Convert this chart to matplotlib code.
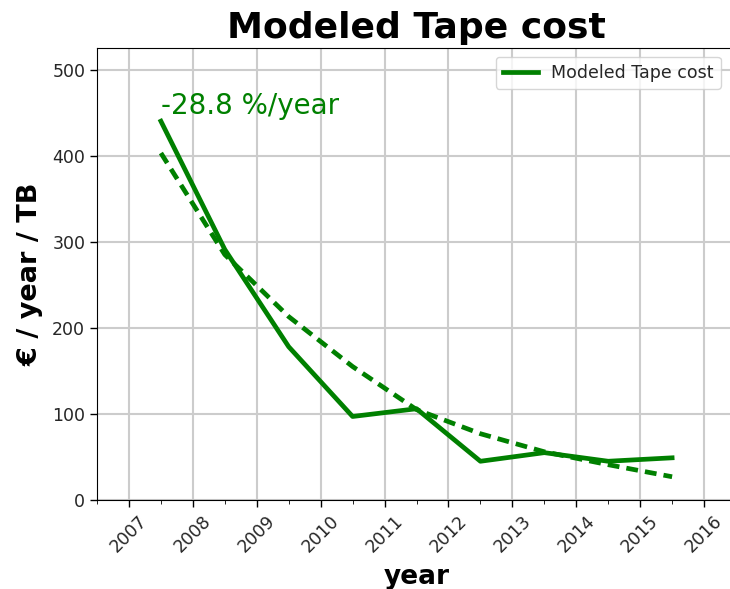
import numpy as np
import matplotlib
matplotlib.use("Agg")
from matplotlib import pyplot as plt
from matplotlib.ticker import MultipleLocator

# cost per TB per year, plotted at mid-year
years = [2007.5, 2008.5, 2009.5, 2010.5, 2011.5, 2012.5, 2013.5, 2014.5, 2015.5]
tape_cost = [440, 291, 178, 97, 106, 45, 55, 45, 49]
# exponential fit
fit_cost = [403, 285, 213, 155, 105, 77, 56, 41, 27]
fit_label = "-28.8 %/year"
year_ticks = list(range(2007, 2017))

fig = plt.figure(figsize=(7.3, 5.89), dpi=100)
ax = fig.add_axes([97 / 730, 89 / 589, 639 / 730, 452 / 589])

ax.plot(years, tape_cost, color="green", lw=3.4, label="Modeled Tape cost")
ax.plot(years, fit_cost, color="green", lw=3.4, ls=(0, (2.5, 1.5)))
ax.text(years[0], 441, fit_label, color="green", fontsize=20, va="bottom")

ax.set_xlim(2006.5, 2016.5)
ax.set_ylim(0, 525)
ax.set_xticks(year_ticks)
ax.xaxis.set_minor_locator(MultipleLocator(0.5))
ax.set_yticks([0, 100, 200, 300, 400, 500])
ax.tick_params(axis="both", labelsize=12.5, length=5, width=1, labelcolor="#262626")
ax.tick_params(axis="x", which="minor", length=3)
for lab in ax.get_xticklabels():
    lab.set_rotation(45)
    lab.set_ha("center")
ax.grid(True, which="major", color="#cccccc", lw=1.5)
ax.set_axisbelow(True)

ax.set_title("Modeled Tape cost", fontsize=26, fontweight="bold", pad=7)
ax.set_xlabel("year", fontsize=19, fontweight="bold", labelpad=6)
ax.set_ylabel("€ / year / TB", fontsize=19.5, fontweight="bold", labelpad=6)
leg = ax.legend(loc="upper right", fontsize=12.5, fancybox=True, framealpha=0.8,
                bbox_to_anchor=(0.99, 1.0))
for t in leg.get_texts():
    t.set_color("#262626")

fig.savefig("out.png", dpi=100)
